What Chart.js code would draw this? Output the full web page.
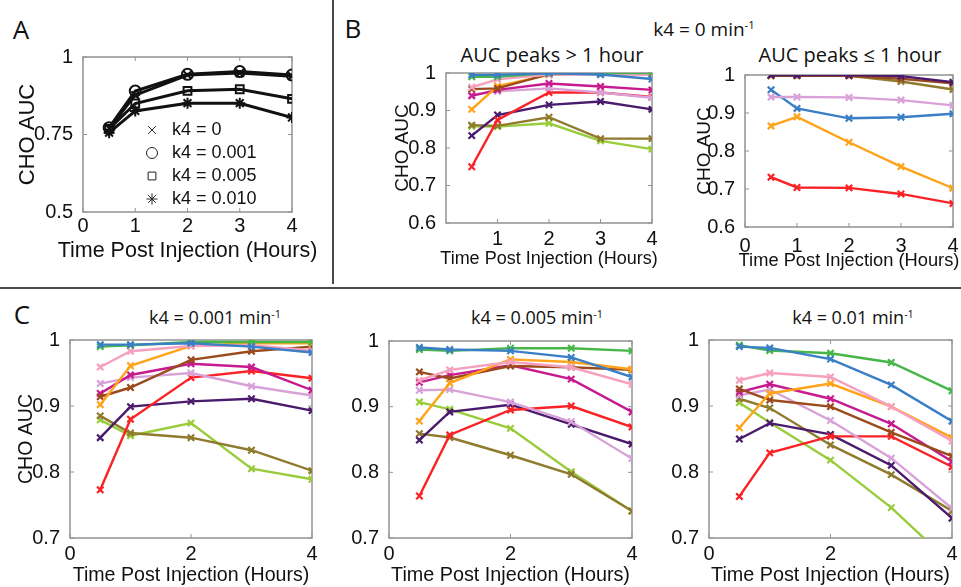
<!DOCTYPE html>
<html>
<head>
<meta charset="utf-8">
<script src="https://cdn.jsdelivr.net/npm/chart.js@4.4.0/dist/chart.umd.min.js"></script>
<style>
  body { margin: 0; background: #fff; width: 961px; height: 587px; position: relative; overflow: hidden; font-family: "Open Sans", sans-serif; color: #111; }
  canvas { position: absolute; }
  .lbl { position: absolute; transform: translate(-50%, -50%); white-space: nowrap; line-height: 1; }
  .rule { position: absolute; background: #4a4a4a; }
  sup { font-size: 0.6em; vertical-align: 0.55em; }
</style>
</head>
<body>
<div class="lbl" style="left:21px;top:29px;font-size:26px">A</div>
<div class="lbl" style="left:353px;top:28px;font-size:26px">B</div>
<div class="lbl" style="left:22px;top:314px;font-size:26px">C</div>
<div class="lbl" style="left:704px;top:29px;font-size:19px">k4 = 0 min<sup>-1</sup></div>
<div class="lbl" style="left:552px;top:55px;font-size:20px">AUC peaks &gt; 1 hour</div>
<div class="lbl" style="left:850px;top:55px;font-size:20px">AUC peaks ≤ 1 hour</div>
<div class="lbl" style="left:215px;top:317px;font-size:18px">k4 = 0.001 min<sup>-1</sup></div>
<div class="lbl" style="left:537px;top:317px;font-size:18px">k4 = 0.005 min<sup>-1</sup></div>
<div class="lbl" style="left:853px;top:317px;font-size:18px">k4 = 0.01 min<sup>-1</sup></div>
<div class="rule" style="left:332px;top:0;width:2px;height:284px"></div>
<div class="rule" style="left:0;top:287px;width:961px;height:2px"></div>
<script>
const hours = [0.5, 1, 2, 3, 4];
const xTitleText = "Time Post Injection (Hours)";
const yTitleText = "CHO AUC";

// panel A: mean curves per k4
const aLabels = ["k4 = 0", "k4 = 0.001", "k4 = 0.005", "k4 = 0.010"];
const aK0   = [0.770, 0.877, 0.942, 0.948, 0.938];
const aK001 = [0.772, 0.890, 0.944, 0.953, 0.942];
const aK005 = [0.768, 0.850, 0.891, 0.896, 0.865];
const aK010 = [0.756, 0.826, 0.851, 0.851, 0.805];
const aMarkers = ["crossRot", "circle", "rect", "star"];

// tick labels
const aXTicks = [0, 1, 2, 3, 4];
const aYTicks = [0.5, 0.75, 1];
const bLeftXTicks = [1, 2, 3, 4];
const bRightXTicks = [0, 1, 2, 3, 4];
const bYTicks = [0.6, 0.7, 0.8, 0.9, 1];
const cXTicks = [0, 2, 4];
const cYTicks = [0.7, 0.8, 0.9, 1];

const palette = {
  blue: "#3a7ec6", green: "#46b649", pink: "#f6a0bf", brown: "#9b4a1c",
  orange: "#ffa31a", magenta: "#c71a8e", lavender: "#d8a2d8", red: "#fb2226",
  purple: "#4a1a6c", olive: "#8f7a2d", lime: "#98cc3a"
};

// panel B left: AUC peaks > 1 hour
const bLeftKeys = ["blue", "green", "pink", "brown", "orange", "magenta", "lavender", "red", "purple", "olive", "lime"];
const bLeftValues = [
  [0.995, 0.995, 0.999, 0.996, 0.984],
  [0.990, 0.990, 1.000, 1.000, 1.000],
  [0.962, 0.983, 0.996, 0.996, 0.995],
  [0.957, 0.959, 0.997, 0.998, 0.998],
  [0.903, 0.965, 0.995, 1.000, 1.000],
  [0.939, 0.955, 0.972, 0.964, 0.955],
  [0.942, 0.951, 0.959, 0.948, 0.934],
  [0.750, 0.875, 0.948, 0.948, 0.936],
  [0.833, 0.888, 0.915, 0.924, 0.903],
  [0.861, 0.859, 0.882, 0.825, 0.825],
  [0.858, 0.857, 0.866, 0.819, 0.797]
];

// panel B right: AUC peaks <= 1 hour
const bRightKeys = ["purple", "brown", "olive", "lavender", "blue", "orange", "red"];
const bRightValues = [
  [1.000, 1.000, 1.000, 0.997, 0.981],
  [0.998, 0.998, 0.998, 0.990, 0.978],
  [0.999, 0.999, 0.998, 0.983, 0.962],
  [0.942, 0.942, 0.941, 0.934, 0.920],
  [0.961, 0.912, 0.886, 0.889, 0.898],
  [0.866, 0.890, 0.823, 0.759, 0.702],
  [0.731, 0.704, 0.703, 0.687, 0.662]
];

// panel C: k4 = 0.001, 0.005, 0.01
const cKeys = ["blue", "green", "pink", "orange", "brown", "magenta", "lavender", "red", "purple", "olive", "lime"];
const c001Values = [
  [0.993, 0.993, 0.995, 0.990, 0.981],
  [0.990, 0.992, 0.997, 0.997, 0.997],
  [0.959, 0.983, 0.991, 0.992, 0.984],
  [0.902, 0.961, 0.991, 0.995, 0.995],
  [0.914, 0.928, 0.970, 0.983, 0.990],
  [0.919, 0.947, 0.964, 0.959, 0.924],
  [0.934, 0.943, 0.950, 0.930, 0.916],
  [0.773, 0.880, 0.943, 0.953, 0.942],
  [0.852, 0.899, 0.907, 0.911, 0.893],
  [0.885, 0.859, 0.852, 0.833, 0.802],
  [0.879, 0.855, 0.874, 0.805, 0.789]
];
const c005Values = [
  [0.990, 0.987, 0.985, 0.975, 0.945],
  [0.987, 0.985, 0.989, 0.989, 0.985],
  [0.940, 0.956, 0.968, 0.960, 0.934],
  [0.878, 0.936, 0.972, 0.968, 0.957],
  [0.953, 0.943, 0.962, 0.960, 0.956],
  [0.937, 0.948, 0.963, 0.942, 0.892],
  [0.925, 0.926, 0.907, 0.877, 0.821],
  [0.764, 0.857, 0.895, 0.901, 0.869],
  [0.849, 0.892, 0.903, 0.873, 0.843],
  [0.859, 0.853, 0.826, 0.797, 0.741],
  [0.907, 0.896, 0.867, 0.801, 0.741]
];
const c01Values = [
  [0.990, 0.988, 0.971, 0.932, 0.877],
  [0.992, 0.984, 0.980, 0.966, 0.923],
  [0.939, 0.950, 0.944, 0.899, 0.847],
  [0.867, 0.919, 0.934, 0.899, 0.852],
  [0.926, 0.909, 0.899, 0.860, 0.824],
  [0.921, 0.933, 0.911, 0.873, 0.816],
  [0.916, 0.925, 0.878, 0.821, 0.745],
  [0.763, 0.829, 0.854, 0.854, 0.808],
  [0.850, 0.874, 0.857, 0.810, 0.730],
  [0.911, 0.897, 0.841, 0.796, 0.741],
  [0.905, 0.875, 0.818, 0.746, 0.660]
];

const axisFont = 'Arial, "Liberation Sans", Helvetica, sans-serif';

// matlab style box with inward ticks
const boxPlugin = {
  id: "box",
  beforeDatasetsDraw(chart) {
    const { ctx, chartArea: a, scales } = chart;
    ctx.save();
    ctx.strokeStyle = "#939393";
    ctx.lineWidth = 1.5;
    ctx.strokeRect(a.left, a.top, a.right - a.left, a.bottom - a.top);
    ctx.lineWidth = 1;
    ctx.beginPath();
    scales.x.ticks.forEach(t => {
      const px = scales.x.getPixelForValue(t.value);
      ctx.moveTo(px, a.bottom); ctx.lineTo(px, a.bottom - 4);
      ctx.moveTo(px, a.top); ctx.lineTo(px, a.top + 4);
    });
    scales.y.ticks.forEach(t => {
      const py = scales.y.getPixelForValue(t.value);
      ctx.moveTo(a.left, py); ctx.lineTo(a.left + 4, py);
      ctx.moveTo(a.right, py); ctx.lineTo(a.right - 4, py);
    });
    ctx.stroke();
    ctx.restore();
  }
};

// x axis title, drawn without the axis-width squeeze
const xTitlePlugin = {
  id: "xTitle",
  afterDraw(chart, args, opts) {
    const { ctx, chartArea: a } = chart;
    ctx.save();
    ctx.font = opts.size + "px " + axisFont;
    ctx.fillStyle = "#111";
    ctx.textAlign = "center";
    ctx.textBaseline = "middle";
    ctx.fillText(xTitleText, (a.left + a.right) / 2, opts.y);
    ctx.restore();
  }
};

// legend inside panel A
const legendPlugin = {
  id: "innerLegend",
  afterDraw(chart) {
    const { ctx, chartArea: a } = chart;
    ctx.save();
    ctx.font = "18px " + axisFont;
    ctx.textBaseline = "middle";
    chart.data.datasets.forEach((ds, i) => {
      const y = a.top + 73 + i * 23;
      ctx.strokeStyle = "#222";
      ctx.fillStyle = "rgba(0,0,0,0)";
      Chart.helpers.drawPoint(ctx, { pointStyle: ds.pointStyle, radius: 5.5, borderWidth: 1.5, rotation: 0 }, a.left + 69, y);
      ctx.fillStyle = "#111";
      ctx.fillText(ds.label, a.left + 89, y);
    });
    ctx.restore();
  }
};

function makePanel(p) {
  const [cl, ct, cw, ch] = p.canvas;
  const [bl, bt, br, bb] = p.box;
  const cv = document.createElement("canvas");
  cv.width = cw; cv.height = ch;
  cv.style.left = cl + "px"; cv.style.top = ct + "px";
  document.body.appendChild(cv);
  new Chart(cv, {
    type: "line",
    data: { datasets: p.datasets },
    options: {
      responsive: false,
      animation: false,
      devicePixelRatio: 1,
      layout: { padding: { left: 0, top: bt - ct, right: cl + cw - br, bottom: 0 } },
      plugins: {
        legend: { display: false },
        tooltip: { enabled: false },
        xTitle: { size: p.xTitleSize, y: p.xTitleY - ct }
      },
      scales: {
        x: {
          type: "linear", min: 0, max: 4,
          afterBuildTicks: s => { s.ticks = p.xTicks.map(v => ({ value: v })); },
          afterFit: s => { s.height = ct + ch - bb; s.paddingLeft = 0; s.paddingRight = 0; },
          grid: { display: false },
          border: { display: false },
          ticks: {
            font: { family: axisFont, size: p.tickSize }, color: "#111",
            padding: p.xPad, maxRotation: 0, autoSkip: false, callback: v => String(v)
          }
        },
        y: {
          type: "linear", min: p.yTicks[0], max: p.yTicks[p.yTicks.length - 1],
          afterBuildTicks: s => { s.ticks = p.yTicks.map(v => ({ value: v })); },
          afterFit: s => { s.width = bl - cl; s.paddingTop = 0; s.paddingBottom = 0; },
          grid: { display: false },
          border: { display: false },
          ticks: {
            font: { family: axisFont, size: p.tickSize }, color: "#111",
            padding: 2, autoSkip: false, callback: v => String(v)
          },
          title: {
            display: !!p.yTitleX, text: yTitleText, color: "#111",
            font: { family: axisFont, size: p.yTitleSize, lineHeight: 1 },
            padding: { top: (p.yTitleX || 0) - cl - (p.yTitleSize || 0) / 2, bottom: 0 }
          }
        }
      }
    },
    plugins: p.legend ? [boxPlugin, xTitlePlugin, legendPlugin] : [boxPlugin, xTitlePlugin]
  });
}

function colourSets(keys, rows) {
  return rows.map((row, i) => ({
    label: keys[i],
    data: row.map((v, j) => ({ x: hours[j], y: v })),
    borderColor: palette[keys[i]],
    backgroundColor: palette[keys[i]],
    borderWidth: 2.4,
    pointStyle: "crossRot",
    pointRadius: 4.5,
    pointBorderWidth: 2.2,
    tension: 0
  }));
}

const aSeries = [aK0, aK001, aK005, aK010];
const aSets = aSeries.map((row, i) => ({
  label: aLabels[i],
  data: row.map((v, j) => ({ x: hours[j], y: v })),
  borderColor: "#111",
  backgroundColor: "rgba(0,0,0,0)",
  borderWidth: 3,
  pointStyle: aMarkers[i],
  pointRadius: 5.5,
  pointBorderWidth: 2,
  tension: 0
}));

makePanel({ canvas: [0, 40, 330, 232], box: [83, 57, 292, 212], datasets: aSets, legend: true,
  xTicks: aXTicks, yTicks: aYTicks, tickSize: 20, xPad: -6, xTitleSize: 21.5, xTitleY: 251, yTitleSize: 22, yTitleX: 28 });
makePanel({ canvas: [380, 62, 290, 212], box: [446, 73, 652, 223], datasets: colourSets(bLeftKeys, bLeftValues),
  xTicks: bLeftXTicks, yTicks: bYTicks, tickSize: 20, xPad: -4, xTitleSize: 18, xTitleY: 259, yTitleSize: 19, yTitleX: 403 });
makePanel({ canvas: [670, 62, 291, 215], box: [745, 75, 953, 227], datasets: colourSets(bRightKeys, bRightValues),
  xTicks: bRightXTicks, yTicks: bYTicks, tickSize: 20, xPad: -1, xTitleSize: 18.3, xTitleY: 261, yTitleSize: 19, yTitleX: 705 });
makePanel({ canvas: [0, 330, 330, 257], box: [70, 340, 312, 538], datasets: colourSets(cKeys, c001Values),
  xTicks: cXTicks, yTicks: cYTicks, tickSize: 20, xPad: -4, xTitleSize: 19.6, xTitleY: 576, yTitleSize: 19.5, yTitleX: 27 });
makePanel({ canvas: [330, 330, 320, 257], box: [389, 341, 632, 538], datasets: colourSets(cKeys, c005Values),
  xTicks: cXTicks, yTicks: cYTicks, tickSize: 20, xPad: -4, xTitleSize: 19.8, xTitleY: 576 });
makePanel({ canvas: [650, 330, 311, 257], box: [709, 340, 952, 538], datasets: colourSets(cKeys, c01Values),
  xTicks: cXTicks, yTicks: cYTicks, tickSize: 20, xPad: -4, xTitleSize: 19.8, xTitleY: 576 });
</script>
</body>
</html>
